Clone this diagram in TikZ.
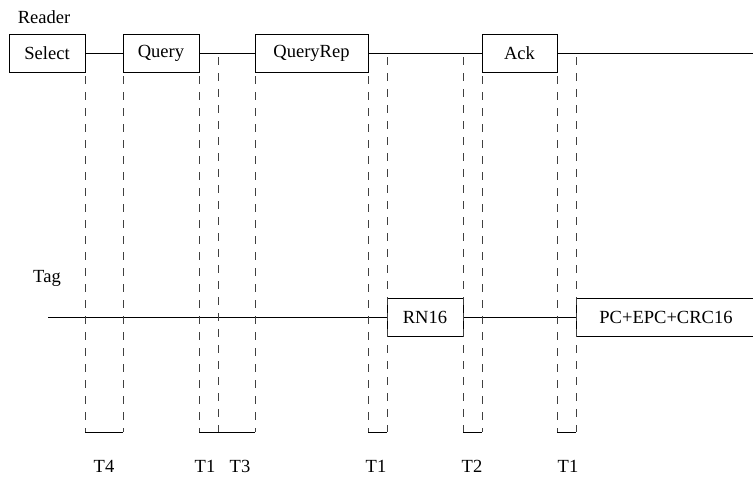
\documentclass[tikz,border=0pt]{standalone}
\usepackage{fontspec}
\setmainfont{Liberation Serif}
\begin{document}
\begin{tikzpicture}[x=0.75pt,y=-0.75pt,
    msg/.style={draw,minimum height=28.5pt,inner sep=0pt,font=\fontsize{13.9}{16}\selectfont},
    lbl/.style={font=\fontsize{13.9}{16}\selectfont},
    guard/.style={black!75,dash pattern=on 6pt off 6pt,dash phase=-3pt}]
    \useasboundingbox (0,0) rectangle (753,482);
    % reader side
    \node[lbl] (reader) at (44,17) {Reader};
    \node[msg,minimum width=57pt] (select) at (47,53) {Select};
    \node[msg,minimum width=57pt] (query) at (161,53) {Query};
    \node[msg,minimum width=85pt] (queryrep) at (311.5,53) {QueryRep};
    \node[msg,minimum width=56pt] (ack) at (519.5,53) {Ack};
    \coordinate (rend) at (753,53);
    \draw (select.east) -- (query.west);
    \draw (query.east) -- (queryrep.west);
    \draw (queryrep.east) -- (ack.west);
    \draw (ack.east) -- (rend);
    % tag side
    \node[lbl] (tag) at (47,278) {Tag};
    \coordinate (tstart) at (48,317);
    \node[msg,minimum width=57pt] (rn16) at (425,317) {RN16};
    \node[msg,minimum width=135pt] (epc) at (666,317) {PC+EPC+CRC16};
    \draw (tstart) -- (rn16.west);
    \draw (rn16.east) -- (epc.west);
    % guard intervals
    \foreach \name/\x/\y in {a/85/72,b/123/72,c/199/72,d/218/53,e/255/72,f/368/72,
                             g/387/53,h/463/53,i/482/72,j/557/72,k/576/53} {
        \coordinate (\name top) at (\x,\y);
        \coordinate (\name bot) at (\x,432);
        \draw[guard] (\name top) -- (\name bot);
    }
    \draw (abot) -- (bbot);
    \draw (cbot) -- (dbot);
    \draw (dbot) -- (ebot);
    \draw (fbot) -- (gbot);
    \draw (hbot) -- (ibot);
    \draw (jbot) -- (kbot);
    \node[lbl] (t4) at (104,466) {T4};
    \node[lbl] (t1a) at (205,466) {T1};
    \node[lbl] (t3) at (240,466) {T3};
    \node[lbl] (t1b) at (376,466) {T1};
    \node[lbl] (t2) at (472,466) {T2};
    \node[lbl] (t1c) at (568,466) {T1};
\end{tikzpicture}
\end{document}
